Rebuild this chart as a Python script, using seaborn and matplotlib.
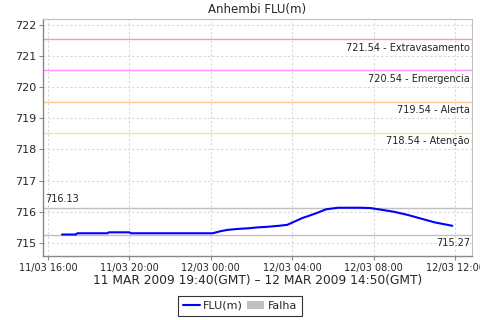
import matplotlib
matplotlib.use("Agg")
import matplotlib.pyplot as plt
import matplotlib.dates as mdates
from matplotlib.lines import Line2D
from matplotlib.patches import Patch
import seaborn as sns
import pandas as pd

times = ["2009-03-11 16:41", "2009-03-11 17:22", "2009-03-11 17:26", "2009-03-11 18:55",
         "2009-03-11 18:59", "2009-03-11 20:00", "2009-03-11 20:04", "2009-03-12 00:05",
         "2009-03-12 00:30", "2009-03-12 00:50", "2009-03-12 01:20", "2009-03-12 01:50",
         "2009-03-12 02:20", "2009-03-12 02:50", "2009-03-12 03:20", "2009-03-12 03:45",
         "2009-03-12 04:30", "2009-03-12 05:10", "2009-03-12 05:40", "2009-03-12 06:15",
         "2009-03-12 06:40", "2009-03-12 07:20", "2009-03-12 07:50", "2009-03-12 08:20",
         "2009-03-12 09:00", "2009-03-12 09:40", "2009-03-12 10:20", "2009-03-12 11:00",
         "2009-03-12 11:52"]
values = [715.27, 715.27, 715.31, 715.31,
          715.34, 715.34, 715.31, 715.31,
          715.38, 715.42, 715.45, 715.47,
          715.50, 715.52, 715.55, 715.58,
          715.80, 715.95, 716.08, 716.13,
          716.13, 716.13, 716.12, 716.07,
          716.00, 715.90, 715.78, 715.66,
          715.55]

thresholds = [721.54, 720.54, 719.54, 718.54]
threshold_names = ["Extravasamento", "Emergencia", "Alerta", "Atenção"]
threshold_colors = ["#f0a0a0", "#ff90ff", "#ffc890", "#f5e49a"]
ymax_val = 716.13
ymin_val = 715.27

title = "Anhembi FLU(m)"
xlabel = "11 MAR 2009 19:40(GMT) – 12 MAR 2009 14:50(GMT)"

df = pd.DataFrame({"time": pd.to_datetime(times), "FLU(m)": values})

sns.set_style("white")
plt.rcParams["font.family"] = ["DejaVu Sans"]

fig = plt.figure(figsize=(4.8, 3.2), dpi=100)
ax = fig.add_axes([43/480, 1-256/320, (472-43)/480, (256-19)/320])

sns.lineplot(data=df, x="time", y="FLU(m)", ax=ax, color="#0000ff", linewidth=1.5)

for v, n, c in zip(thresholds, threshold_names, threshold_colors):
    ax.axhline(v, color=c, linewidth=1, zorder=1)
    ax.text(0.995, v - 0.12, f"{v:.2f} - {n}", transform=ax.get_yaxis_transform(),
            ha="right", va="top", fontsize=7, color="#222222")
for v in (ymax_val, ymin_val):
    ax.axhline(v, color="#c0c0c0", linewidth=1, zorder=1)
ax.text(0.005, ymax_val + 0.12, f"{ymax_val:.2f}", transform=ax.get_yaxis_transform(),
        ha="left", va="bottom", fontsize=7, color="#222222")
ax.text(0.995, ymin_val - 0.12, f"{ymin_val:.2f}", transform=ax.get_yaxis_transform(),
        ha="right", va="top", fontsize=7, color="#222222")

ax.set_xlim(pd.Timestamp("2009-03-11 15:45"), pd.Timestamp("2009-03-12 12:50"))
ax.set_ylim(714.58, 722.19)
ax.set_yticks(range(715, 723))
ax.xaxis.set_major_locator(mdates.HourLocator(byhour=[0, 4, 8, 12, 16, 20]))
ax.xaxis.set_major_formatter(mdates.DateFormatter("%d/%m %H:%M"))
ax.tick_params(axis="both", labelsize=7, length=3, color="#888888", direction="out", pad=2,
               bottom=True, left=True)
ax.tick_params(axis="y", labelsize=8)
ax.grid(True, color="#d8d8d8", linestyle=(0, (2, 2)), linewidth=0.8)
ax.set_axisbelow(True)
for s in ("top", "right"):
    ax.spines[s].set_color("#c0c0c0")
for s in ("left", "bottom"):
    ax.spines[s].set_color("#888888")
    ax.spines[s].set_linewidth(1)
ax.set_title(title, fontsize=8.5, pad=4)
ax.set_xlabel(xlabel, fontsize=8.8, labelpad=1)
ax.set_ylabel("")

handles = [Line2D([0], [0], color="#0000ff", lw=1.5),
           Patch(facecolor="#c0c0c0", edgecolor="none")]
leg = fig.legend(handles, ["FLU(m)", "Falha"], loc="center", bbox_to_anchor=(0.5, 1-306/320),
                 ncol=2, fontsize=8, frameon=True, fancybox=False, handlelength=1.5,
                 handleheight=0.7, columnspacing=0.4, handletextpad=0.3, borderpad=0.45,
                 borderaxespad=0)
leg.get_frame().set_edgecolor("black")
leg.get_frame().set_linewidth(0.8)

fig.savefig("out.png", dpi=100)
